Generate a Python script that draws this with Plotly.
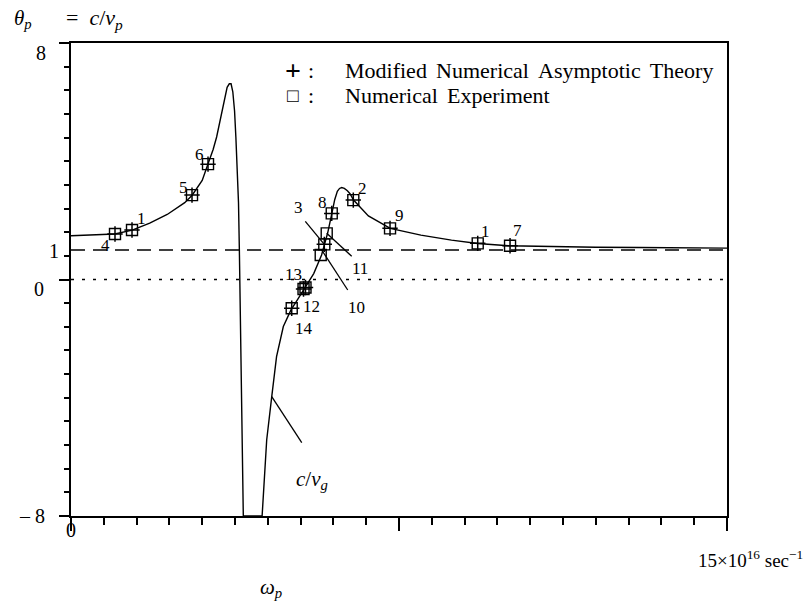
import plotly.graph_objects as go

# ---------------- data ----------------
# c/v_p curve, left branch (omega_p in units of 1e16 sec^-1)
left_x = [0, 0.5, 1.0, 1.4, 1.8, 2.2, 2.6, 2.77, 3.0, 3.13, 3.25, 3.33, 3.48, 3.57,
          3.62, 3.66, 3.70, 3.74, 3.77, 3.80, 3.83, 3.85, 3.88, 3.91, 3.94, 4.37]
left_y = [1.48, 1.50, 1.54, 1.67, 1.91, 2.2, 2.6, 2.85, 3.35, 3.9, 4.4, 4.82, 5.95, 6.5,
          6.62, 6.62, 6.35, 5.7, 4.82, 3.9, 2.6, 1.0, -2.0, -5.0, -8.0, -8.0]
# right branch
right_x = [4.37, 4.475, 4.59, 4.70, 4.855, 5.03, 5.18, 5.33, 5.55, 5.73, 5.80, 5.87,
           5.96, 6.03, 6.09, 6.14, 6.19, 6.25, 6.32, 6.38, 6.46, 6.8, 7.3, 8.0, 8.7,
           9.3, 10.0, 11.0, 12.0, 13.0, 14.0, 15.0]
right_y = [-8.0, -5.42, -3.96, -2.61, -1.59, -1.03, -0.68, -0.33, 0.2, 0.83, 1.18, 1.58,
           2.2, 2.7, 2.98, 3.08, 3.11, 3.08, 3.0, 2.9, 2.69, 2.15, 1.73, 1.50, 1.33,
           1.22, 1.14, 1.11, 1.09, 1.08, 1.07, 1.06]

# numerical experiment points (squares) and their labels
exp_x = [1.006, 1.395, 2.767, 3.133, 5.047, 5.317, 5.362, 5.71, 5.792, 5.847, 5.962,
         6.455, 7.295, 9.30, 10.039]
exp_y = [1.537, 1.672, 2.855, 3.902, -0.973, -0.32, -0.27, 0.828, 1.189, 1.561, 2.236,
         2.686, 1.730, 1.223, 1.142]
exp_labels = ['4', '1', '5', '6', '14', '13', '12', '10', '3', '11', '8', '2', '9', '1', '7']
# which points also have a modified-asymptotic-theory value (+)
has_theory = [True, True, True, True, True, True, True, False, True, False, True,
              True, True, True, True]

asym_level = 1.0   # dashed line
zero_level = 0.0   # dotted line
x_range = [0, 15]
y_range = [-8, 8]

y_tick_vals = [8, 1, 0, -8]
y_tick_text = ['8', '1', '0', '\u2013 8']

legend_symbols = ['<b>+</b>', '\u25a1']
legend_texts = ['Modified \u2006Numerical \u2006Asymptotic \u2006Theory',
                'Numerical \u2006Experiment']

# ---------------- layout helpers (pixel offsets, not data) ----------------
label_offsets = {  # (dx, dy) in screen pixels, dy downwards
    0: (-10, 11), 1: (9, -12), 2: (-9, -8), 3: (-9, -10), 4: (12, 20), 5: (-10, -14),
    6: (6, 19), 7: (36, 52), 8: (-26, -37), 9: (33, 35), 10: (-9, -11), 11: (9, -12),
    12: (9, -13), 13: (8, -12), 14: (7, -15)
}
y_label_pos = [(-23, -10), (-10, -1), (-25, -9.5), (-24, 0)]  # (xshift, yshift)
legend_rows_y = [0.941, 0.888]  # paper y of the two legend rows
legend_sym_sizes = [28, 19]

FONT = 'Liberation Serif, Times New Roman, DejaVu Serif, serif'
fig = go.Figure()

line_style = dict(color='black', width=1.4)
fig.add_trace(go.Scatter(x=x_range, y=[asym_level, asym_level], mode='lines',
                         line=dict(color='black', width=1.5, dash='14px,8px'),
                         showlegend=False, hoverinfo='skip'))
fig.add_trace(go.Scatter(x=x_range, y=[zero_level, zero_level], mode='lines',
                         line=dict(color='black', width=1.5, dash='3px,8px'),
                         showlegend=False, hoverinfo='skip'))
fig.add_trace(go.Scatter(x=left_x, y=left_y, mode='lines', line=line_style,
                         showlegend=False, name='c/v_p'))
fig.add_trace(go.Scatter(x=right_x, y=right_y, mode='lines', line=line_style,
                         showlegend=False, name='c/v_p'))

th_x = [x for x, t in zip(exp_x, has_theory) if t]
th_y = [y for y, t in zip(exp_y, has_theory) if t]
fig.add_trace(go.Scatter(
    x=th_x, y=th_y, mode='markers', showlegend=False,
    name='Modified Numerical Asymptotic Theory',
    marker=dict(symbol='cross-thin-open', size=11, color='black',
                line=dict(color='black', width=1.5))))
fig.add_trace(go.Scatter(
    x=exp_x, y=exp_y, mode='markers', showlegend=False,
    name='Numerical Experiment',
    marker=dict(symbol='square-open', size=11, color='black',
                line=dict(color='black', width=1.4))))

annotations = []
for i, (x, y, lab) in enumerate(zip(exp_x, exp_y, exp_labels)):
    dx, dy = label_offsets[i]
    annotations.append(dict(x=x, y=y, xref='x', yref='y', text=lab, showarrow=False,
                            xshift=dx, yshift=-dy, font=dict(size=17)))

# legend (as text)
for sym, txt, ly, ss in zip(legend_symbols, legend_texts, legend_rows_y, legend_sym_sizes):
    annotations.append(dict(x=0.3384, y=ly, xref='paper', yref='paper', text=sym,
                            showarrow=False, xanchor='center', yanchor='middle',
                            font=dict(size=ss)))
    annotations.append(dict(x=0.3659, y=ly, xref='paper', yref='paper', text=':',
                            showarrow=False, xanchor='center', yanchor='middle',
                            font=dict(size=22)))
    annotations.append(dict(x=0.4146, y=ly, xref='paper', yref='paper', text=txt,
                            showarrow=False, xanchor='left', yanchor='middle',
                            font=dict(size=22)))

# y tick labels
for v, t, (xs, ys) in zip(y_tick_vals, y_tick_text, y_label_pos):
    annotations.append(dict(x=0, y=v, xref='paper', yref='y', text=t, showarrow=False,
                            xanchor='right', yanchor='middle', xshift=xs, yshift=ys,
                            font=dict(size=20)))
# x tick labels
annotations.append(dict(x=x_range[0], y=0, xref='x', yref='paper', text='0',
                        showarrow=False, yanchor='middle', yshift=-14, font=dict(size=20)))
annotations.append(dict(x=0.952, y=0, xref='paper', yref='paper',
                        text='15\u00d710<sup>16</sup> sec<sup>\u22121</sup>',
                        showarrow=False, xanchor='left', yanchor='middle', yshift=-43,
                        font=dict(size=19)))
annotations.append(dict(x=0.285, y=0, xref='paper', yref='paper',
                        text='<i>\u03c9<sub>p</sub></i>', showarrow=False,
                        yanchor='middle', yshift=-72, font=dict(size=21)))
# axis title at top-left
annotations.append(dict(x=-0.0899, y=1, xref='paper', yref='paper',
                        text='<i>\u03b8<sub>p</sub></i>', showarrow=False,
                        xanchor='left', yanchor='middle', yshift=24, font=dict(size=21)))
annotations.append(dict(x=-0.0107, y=1, xref='paper', yref='paper',
                        text='=\u00a0\u00a0<i>c</i>/<i>v<sub>p</sub></i>', showarrow=False,
                        xanchor='left', yanchor='middle', yshift=24, font=dict(size=22)))
# c/v_g label
annotations.append(dict(x=right_x[2], y=right_y[2], xref='x', yref='y',
                        text='<i>c</i>/<i>v<sub>g</sub></i>', showarrow=False,
                        xshift=40, yshift=-83, font=dict(size=21)))

# leader lines (anchored at data points, pixel offsets, y up positive)
def leader(ax, ay, x0, y0, x1, y1):
    return dict(type='line', xref='x', yref='y', xsizemode='pixel', ysizemode='pixel',
                xanchor=ax, yanchor=ay, x0=x0, y0=y0, x1=x1, y1=y1,
                line=dict(color='black', width=1.3))

shapes = [
    leader(right_x[2], right_y[2], 0, 0, 30, -46),      # c/v_g
    leader(exp_x[8], exp_y[8], -19, 23, 0, 0),          # label 3
    leader(exp_x[9], exp_y[9], 0, 0, 25, -23),          # label 11
    leader(exp_x[7], exp_y[7], 1, 5, 27, -35),          # label 10
]

axis_common = dict(showgrid=False, zeroline=False, showline=True, linecolor='black',
                   linewidth=2, mirror=True, ticks='outside', tickcolor='black',
                   tickwidth=1.5, showticklabels=False)

fig.update_layout(
    width=810, height=609,
    margin=dict(l=71, r=83, t=43, b=93),
    paper_bgcolor='white', plot_bgcolor='white',
    font=dict(family=FONT, color='black', size=18),
    showlegend=False,
    xaxis=dict(range=x_range, tickvals=[0, 7.5, 15], ticklen=13,
               minor=dict(dtick=0.75, tick0=0, ticklen=7, ticks='outside',
                          tickcolor='black', tickwidth=1.5),
               **axis_common),
    yaxis=dict(range=y_range, tickvals=[-8, 0, 8], ticklen=10,
               minor=dict(dtick=0.8, tick0=0, ticklen=5, ticks='outside',
                          tickcolor='black', tickwidth=1.5),
               **axis_common),
    annotations=annotations,
    shapes=shapes,
)

fig.write_html('out.html', config={'displayModeBar': False},
               post_script="document.body.style.margin='0';")
